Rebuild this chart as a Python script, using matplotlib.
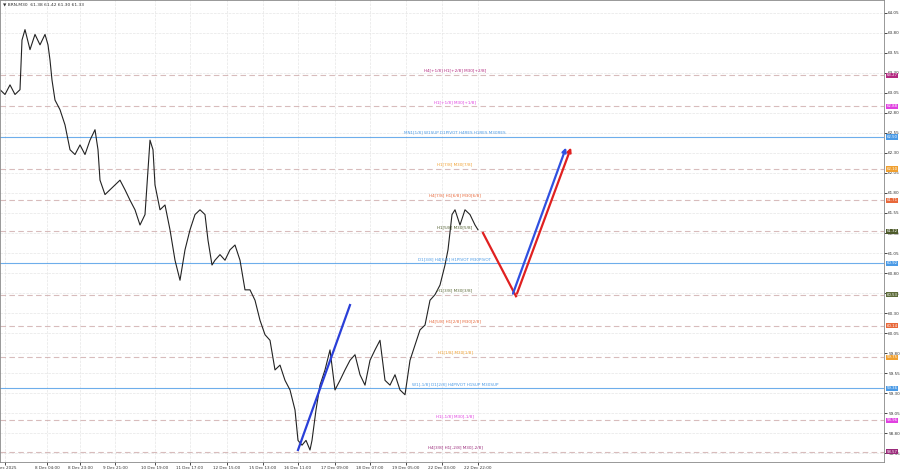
import matplotlib
matplotlib.use("Agg")
import matplotlib.pyplot as plt

# price path (bar position, price)
bar_x = [0, 5, 10, 15, 20, 22, 25, 30, 35, 40, 45, 48, 50, 52, 55, 60, 65, 70, 75, 80,
         85, 90, 95, 98, 100, 105, 110, 115, 120, 125, 130, 135, 140, 145, 150, 153, 155, 160, 165, 170,
         175, 180, 185, 190, 195, 200, 205, 208, 212, 215, 220, 225, 230, 235, 240, 245, 250, 255, 260, 265,
         270, 275, 280, 285, 290, 295, 298, 302, 306, 310, 312, 316, 320, 325, 330, 335, 340, 345, 350, 355,
         360, 365, 370, 375, 380, 385, 390, 395, 400, 405, 410, 415, 420, 425, 430, 435, 440, 445, 448, 452,
         455, 460, 465, 470, 475, 478]
price = [63.09, 63.03, 63.15, 63.03, 63.09, 63.71, 63.84, 63.59, 63.78, 63.65, 63.78, 63.65, 63.46, 63.21, 62.96, 62.84, 62.65, 62.34, 62.28, 62.40,
         62.28, 62.46, 62.59, 62.34, 61.96, 61.78, 61.84, 61.90, 61.96, 61.84, 61.71, 61.59, 61.40, 61.53, 62.46, 62.34, 61.90, 61.59, 61.65, 61.34,
         60.96, 60.71, 61.09, 61.34, 61.53, 61.59, 61.53, 61.21, 60.90, 60.96, 61.03, 60.96, 61.09, 61.15, 60.96, 60.59, 60.59, 60.46, 60.21, 60.03,
         59.96, 59.59, 59.65, 59.46, 59.34, 59.09, 58.71, 58.65, 58.71, 58.59, 58.71, 59.09, 59.40, 59.59, 59.84, 59.34, 59.46, 59.59, 59.71, 59.78,
         59.53, 59.40, 59.71, 59.84, 59.96, 59.46, 59.40, 59.53, 59.34, 59.28, 59.71, 59.90, 60.09, 60.15, 60.46, 60.53, 60.65, 60.90, 61.09, 61.53,
         61.59, 61.40, 61.59, 61.53, 61.40, 61.34]

levels = [63.27, 62.88, 62.50, 62.10, 61.71, 61.32, 60.92, 60.53, 60.14, 59.75, 59.36, 58.96, 58.57]
level_text = ["H4[+1/8] H1[+2/8] M30[+2/8]", "H1[+1/8] M30[+1/8]",
              "MN1[1/8] W1SUP D1PIVOT H4RES H1RES M30RES", "H1[7/8] M30[7/8]",
              "H4[7/8] H1[6/8] M30[6/8]", "H1[5/8] M30[5/8]",
              "D1[3/8] H4[6/8] H1PIVOT M30PIVOT", "H1[3/8] M30[3/8]",
              "H4[5/8] H1[2/8] M30[2/8]", "H1[1/8] M30[1/8]",
              "W1[-1/8] D1[2/8] H4PIVOT H1SUP M30SUP", "H1[-1/8] M30[-1/8]",
              "H4[3/8] H1[-2/8] M30[-2/8]"]
level_color = ["#b3287f", "#e040e0", "#4a9ae6", "#f0a030", "#e8683a", "#4d5a2a",
               "#4a9ae6", "#5d6b3a", "#e8683a", "#f0a030", "#4a9ae6", "#e040e0", "#9a2a7a"]
level_solid = [False, False, True, False, False, False, True, False, False, False, True, False, False]

tick_pos = [5, 47, 80, 115, 155, 190, 227, 263, 298, 335, 370, 406, 442, 478]
tick_text = ["5 Dec 2025", "8 Dec 04:00", "8 Dec 23:00", "9 Dec 21:00", "10 Dec 19:00",
             "11 Dec 17:00", "12 Dec 15:00", "15 Dec 13:00", "16 Dec 11:00", "17 Dec 09:00",
             "18 Dec 07:00", "19 Dec 05:00", "22 Dec 03:00", "22 Dec 22:00"]
price_ticks = [64.05 - 0.25 * i for i in range(23)]

trend_x = [298, 350]
trend_y = [58.59, 60.40]
red_x = [483, 516, 572]
red_y = [61.30, 60.51, 62.40]
blue_x = [512, 567]
blue_y = [60.51, 62.40]

fig = plt.figure(figsize=(9, 4.74), dpi=100)
ax = fig.add_axes([0.0, 12 / 474, 884 / 900, 1 - 12 / 474])
ax.set_xlim(0, 884)
ax.set_ylim(58.44, 64.21)

ax.set_xticks(tick_pos)
ax.set_xticklabels(tick_text, fontsize=3.0, color="#333333")
ax.set_yticks(price_ticks)
ax.set_yticklabels([f"{p:.2f}" for p in price_ticks], fontsize=3.0, color="#333333")
ax.yaxis.tick_right()
ax.tick_params(length=2, width=0.5, pad=1)
ax.grid(True, color="#e6e6e6", linestyle="--", linewidth=0.5)
for s in ax.spines.values():
    s.set_color("#888888")
    s.set_linewidth(0.6)

for lv, txt, col, solid in zip(levels, level_text, level_color, level_solid):
    ax.axhline(lv, color=col if solid else "#c8a0a0", alpha=0.8 if solid else 0.7,
               linestyle="-" if solid else (0, (5, 3)), linewidth=0.8)
    ax.text(455, lv + 0.03, txt, fontsize=3.0, color=col, ha="center", va="bottom")
    ax.text(1.003, lv, f"{lv:.2f}", fontsize=2.8, color="white", ha="left", va="center",
            transform=ax.get_yaxis_transform(), clip_on=False,
            bbox=dict(boxstyle="square,pad=0.15", fc=col, ec="none"))

ax.plot(bar_x, price, color="#222222", linewidth=0.8)
ax.plot(trend_x, trend_y, color="#2a3fd8", linewidth=1.6)
ax.plot(red_x[:2], red_y[:2], color="#e02020", linewidth=1.6)
ax.annotate("", xy=(red_x[2], red_y[2]), xytext=(red_x[1], red_y[1]),
            arrowprops=dict(arrowstyle="-|>", color="#e02020", lw=1.6, mutation_scale=6))
ax.annotate("", xy=(blue_x[1], blue_y[1]), xytext=(blue_x[0], blue_y[0]),
            arrowprops=dict(arrowstyle="-|>", color="#3050e0", lw=1.6, mutation_scale=6))

ax.text(3, 64.15, "\u25bc BRN,M30  61.38 61.42 61.30 61.33", fontsize=3.2, color="#333333", va="center")

fig.savefig("out.png", dpi=100)
